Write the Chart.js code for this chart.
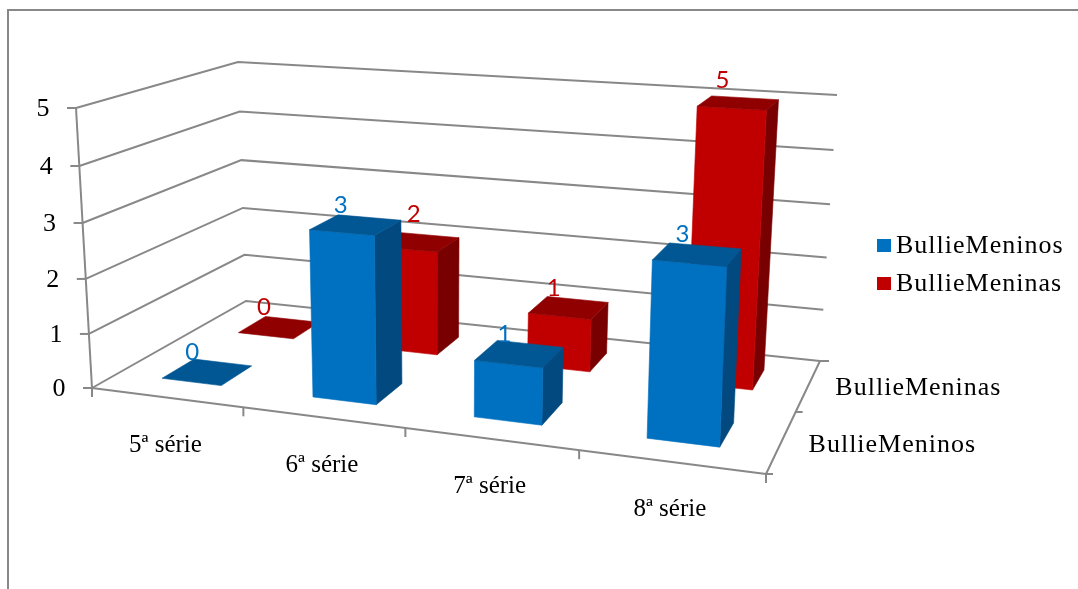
<!DOCTYPE html>
<html>
<head>
<meta charset="utf-8">
<style>html,body{margin:0;padding:0;background:#fff}canvas{display:block}</style>
<script src="https://cdn.jsdelivr.net/npm/chart.js@4"></script>
</head>
<body>
<canvas id="c" width="1078" height="589"></canvas>
<script>
const categories = ['5ª série', '6ª série', '7ª série', '8ª série'];
const seriesNames = ['BullieMeninos', 'BullieMeninas'];
const meninos = [0, 3, 1, 3];
const meninas = [0, 2, 1, 5];

const palette = [
  {front:'#0070C0', top:'#015794', side:'#01497F', label:'#0070C0'},
  {front:'#C00000', top:'#900000', side:'#780000', label:'#C00000'}
];
// 3D box of the chart: corners on screen (floor and ceiling of the value range)
const floorQuad = [[92,388],[766,474],[820,361],[246,301]];
const ceilQuad  = [[76,108],[780,155],[837,95],[238,62]];
const depthBands = [[0.15,0.35],[0.65,0.85]];
const PERSP = 1.045;
const GRID = '#888888';
const SERIF = '"Liberation Serif"';
const TRACK = '1px';

function homography(q){
  const [[x0,y0],[x1,y1],[x2,y2],[x3,y3]] = q;
  const dx1=x1-x2,dx2=x3-x2,sx=x0-x1+x2-x3,dy1=y1-y2,dy2=y3-y2,sy=y0-y1+y2-y3;
  const den=dx1*dy2-dx2*dy1;
  const g=(sx*dy2-dx2*sy)/den,h=(dx1*sy-sx*dy1)/den;
  const a=x1-x0+g*x1,b=x3-x0+h*x3,d=y1-y0+g*y1,e=y3-y0+h*y3;
  return (u,w)=>{const k=g*u+h*w+1;return [(a*u+b*w+x0)/k,(d*u+e*w+y0)/k];};
}
const hFloor=homography(floorQuad), hCeil=homography(ceilQuad);
function project(u,v,w){
  const s=v/(v+(1-v)*PERSP);
  const f=hFloor(u,w),c=hCeil(u,w);
  return [f[0]+(c[0]-f[0])*s,f[1]+(c[1]-f[1])*s];
}
function poly(ctx,pts,fill){
  ctx.beginPath();
  pts.forEach((p,i)=>i?ctx.lineTo(p[0],p[1]):ctx.moveTo(p[0],p[1]));
  ctx.closePath();
  ctx.fillStyle=fill;ctx.fill();
  ctx.strokeStyle=fill;ctx.lineWidth=0.6;ctx.stroke();
}
function line(ctx,a,b,lw){
  ctx.beginPath();ctx.moveTo(a[0],a[1]);ctx.lineTo(b[0],b[1]);
  ctx.lineWidth=lw||2;ctx.strokeStyle=GRID;ctx.stroke();
}

const scene3d = {
  id:'scene3d',
  beforeDatasetsDraw(chart){
    const ctx=chart.ctx, area=chart.chartArea, ys=chart.scales.y;
    const toU=x=>(x-area.left)/(area.right-area.left);
    const toV=y=>(area.bottom-y)/(area.bottom-area.top);
    ctx.save();
    ctx.lineCap='butt';
    // outer frame
    ctx.beginPath();ctx.moveTo(8,589);ctx.lineTo(8,10);ctx.lineTo(1078,10);
    ctx.lineWidth=2;ctx.strokeStyle=GRID;ctx.stroke();

    // wall grid lines and value ticks
    ys.ticks.forEach(t=>{
      const v=toV(ys.getPixelForValue(t.value));
      const a=project(0,v,0),b=project(0,v,1),c=project(1,v,1);
      ctx.beginPath();ctx.moveTo(a[0],a[1]);ctx.lineTo(b[0],b[1]);ctx.lineTo(c[0],c[1]);
      ctx.lineWidth=2;ctx.strokeStyle=GRID;ctx.stroke();
      line(ctx,[a[0]-9,a[1]],a,2);
      ctx.fillStyle='#000';ctx.font='26px '+SERIF;ctx.textAlign='center';ctx.textBaseline='middle';
      ctx.fillText(String(t.value),a[0]-33,a[1]+1);
    });
    // floor frame + axes
    line(ctx,project(0,0,0),project(0,1,0));
    line(ctx,project(0,0,0),project(1,0,0));
    line(ctx,project(1,0,0),project(1,0,1));
    line(ctx,project(1,0,1),[project(1,0,1)[0]+9,project(1,0,1)[1]]);

    // category ticks + labels
    const xs=chart.scales.x;
    const n=categories.length;
    for(let i=0;i<=n;i++){
      const p=project(i/n,0,0);
      line(ctx,p,[p[0],p[1]+9],2);
    }
    ctx.fillStyle='#000';ctx.font='25px '+SERIF;ctx.textAlign='center';ctx.textBaseline='middle';
    categories.forEach((c,i)=>{
      const p=project(toU(xs.getPixelForValue(i)),0,0);
      ctx.fillText(c,p[0]-1,p[1]+48);
    });
    // depth ticks + labels
    const mid=project(1,0,0.5), fr=project(1,0,0);
    line(ctx,mid,[mid[0]+7,mid[1]],2);
    line(ctx,fr,[fr[0]+7,fr[1]],2);
    ctx.textAlign='left';
    ctx.font='26px '+SERIF;
    ctx.letterSpacing=TRACK;
    seriesNames.forEach((s,k)=>{
      const p=project(1,0,depthBands[k][0]/2+depthBands[k][1]/2);
      ctx.fillText(s,p[0]+27,p[1]+(k?3:4));
    });
    ctx.letterSpacing='0px';

    // bars, back series first, left to right
    const labelQueue=[];
    for(let d=chart.data.datasets.length-1;d>=0;d--){
      const meta=chart.getDatasetMeta(d), col=palette[d], [w0,w1]=depthBands[d];
      meta.data.forEach((el,i)=>{
        const u0=toU(el.x-el.width/2),u1=toU(el.x+el.width/2);
        const b=toV(el.base),t=toV(el.y);
        const FL=project(u0,b,w0),FR=project(u1,b,w0),BR=project(u1,b,w1);
        const TFL=project(u0,t,w0),TFR=project(u1,t,w0),TBR=project(u1,t,w1),TBL=project(u0,t,w1);
        if(t>b){
          poly(ctx,[FR,BR,TBR,TFR],col.side);
          poly(ctx,[FL,FR,TFR,TFL],col.front);
        }
        poly(ctx,[TFL,TFR,TBR,TBL],col.top);
        const cx=(TFL[0]+TFR[0]+TBR[0]+TBL[0])/4, cy=(TFL[1]+TFR[1]+TBR[1]+TBL[1])/4;
        // labels of the occluded and tallest back bars sit a little off the usual spot
        const nudge=(d===1&&i===1)?[10,-8]:(d===1&&i===3)?[-1,-3]:[0,0];
        labelQueue.push({text:String(chart.data.datasets[d].data[i]),x:cx-15+nudge[0],y:cy-20+nudge[1],color:col.label});
      });
    }
    ctx.font='24px Lato';ctx.textAlign='center';ctx.textBaseline='middle';
    labelQueue.forEach(l=>{ctx.fillStyle=l.color;ctx.fillText(l.text,l.x,l.y);});

    // legend
    ctx.font='26px '+SERIF;ctx.textAlign='left';ctx.letterSpacing=TRACK;
    chart.data.datasets.forEach((ds,k)=>{
      const y=246+k*38;
      ctx.fillStyle=ds.backgroundColor;ctx.fillRect(877,y-7,14,13);
      ctx.fillStyle='#000';ctx.fillText(ds.label,896,y);
    });
    ctx.letterSpacing='0px';
    ctx.restore();
    return false;
  }
};

new Chart(document.getElementById('c'),{
  type:'bar',
  data:{
    labels:categories,
    datasets:[
      {label:seriesNames[0],data:meninos,backgroundColor:palette[0].front},
      {label:seriesNames[1],data:meninas,backgroundColor:palette[1].front}
    ]
  },
  options:{
    responsive:false,animation:false,
    layout:{padding:0},
    datasets:{bar:{grouped:false,barPercentage:0.4,categoryPercentage:1}},
    plugins:{legend:{display:false},tooltip:{enabled:false},title:{display:false}},
    scales:{
      x:{display:false,offset:true},
      y:{display:false,min:0,max:5,ticks:{stepSize:1}}
    }
  },
  plugins:[scene3d]
});
</script>
</body>
</html>
